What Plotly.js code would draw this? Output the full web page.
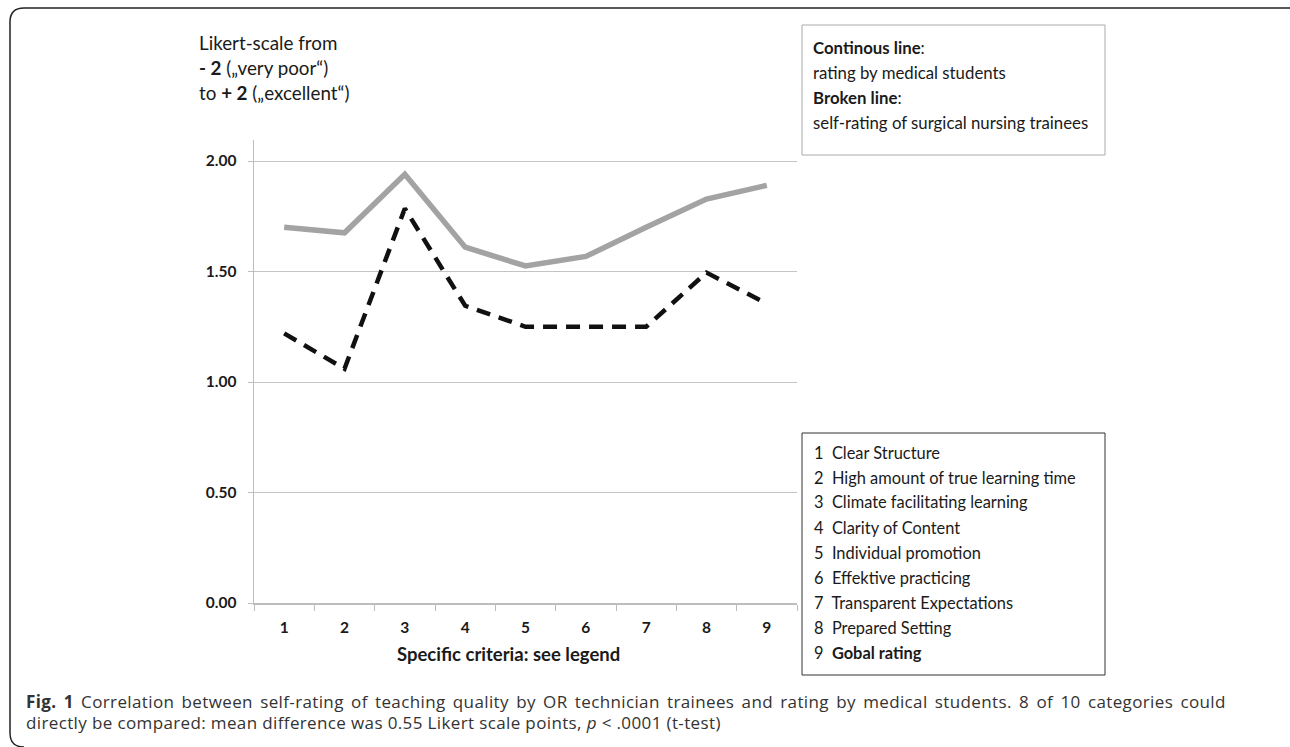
<!DOCTYPE html>
<html>
<head>
<meta charset="utf-8">
<script src="https://cdn.plot.ly/plotly-3.0.1.min.js"></script>
<style>
  html, body { margin: 0; padding: 0; background: #fff; }
  #chart { width: 1290px; height: 747px; }
</style>
</head>
<body>
<div id="chart"></div>
<script>
// ---- data ----
var categories = ['1', '2', '3', '4', '5', '6', '7', '8', '9'];
var medicalStudents = [1.70, 1.675, 1.94, 1.61, 1.525, 1.568, 1.70, 1.828, 1.89];
var nursingTrainees = [1.22, 1.06, 1.785, 1.345, 1.25, 1.25, 1.25, 1.495, 1.355];
var yTickVals = [0, 0.5, 1.0, 1.5, 2.0];
var yTickText = ['0.00', '0.50', '1.00', '1.50', '2.00'];
var criteria = [
  '1  Clear Structure',
  '2  High amount of true learning time',
  '3  Climate facilitating learning',
  '4  Clarity of Content',
  '5  Individual promotion',
  '6  Effektive practicing',
  '7  Transparent Expectations',
  '8  Prepared Setting',
  '9  <b>Gobal rating</b>'
];

// ---- layout helpers (pixel -> paper) ----
var W = 1290, H = 747;
var L = 254, R = 797, T = 140, B = 603;
function px(x) { return (x - L) / (R - L); }
function py(y) { return (B - y) / (B - T); }

var chartFont = 'Lato, "Open Sans", sans-serif';
var textColor = '#1a1a1a';

var traces = [
  {
    x: categories, y: medicalStudents, type: 'scatter', mode: 'lines',
    name: 'rating by medical students',
    line: { color: '#a3a3a3', width: 5.5 }
  },
  {
    x: categories, y: nursingTrainees, type: 'scatter', mode: 'lines',
    name: 'self-rating of surgical nursing trainees',
    line: { color: '#111111', width: 4.5, dash: '14px,9px' }
  }
];

var annotations = [];
function addText(text, x, y, size, extra) {
  var a = {
    text: text, xref: 'paper', yref: 'paper', x: px(x), y: py(y),
    xanchor: 'left', yanchor: 'middle', showarrow: false,
    font: { family: chartFont, size: size, color: textColor }
  };
  if (extra) for (var k in extra) a[k] = extra[k];
  annotations.push(a);
}

// top-left scale note
addText('Likert-scale from', 197, 42, 18.8);
addText('<b>- 2</b> (\u201every poor\u201c)', 197, 67, 18.8);
addText('to <b>+ 2</b> (\u201eexcellent\u201c)', 197, 92, 18.8);

// line-style legend box
addText('<b>Continous line</b>:', 811, 47, 16.8);
addText('rating by medical students', 811, 72, 16.8);
addText('<b>Broken line</b>:', 811, 97, 16.8);
addText('self-rating of surgical nursing trainees', 811, 122, 16.8);

// criteria legend
for (var i = 0; i < criteria.length; i++) {
  addText(criteria[i], 812, 452 + i * 25, 16.4);
}

// x-axis title
addText('<b>Specific criteria: see legend</b>', 508, 654, 18.5, { xanchor: 'center' });

// caption
var capFont = '"Open Sans", "Noto Sans", sans-serif';
var capStart = annotations.length;
annotations.push({
  text: '<b>Fig. 1</b> Correlation between self-rating of teaching quality by OR technician trainees and rating by medical students. 8 of 10 categories could',
  xref: 'paper', yref: 'paper', x: px(24), y: py(701), xanchor: 'left', yanchor: 'middle', align: 'left',
  showarrow: false, font: { family: capFont, size: 17, color: '#333333' }
});
annotations.push({
  text: 'directly be compared: mean difference was 0.55 Likert scale points, <i>p</i> < .0001 (t-test)',
  xref: 'paper', yref: 'paper', x: px(24), y: py(722), xanchor: 'left', yanchor: 'middle', align: 'left',
  showarrow: false, font: { family: capFont, size: 17, color: '#333333' }
});
var st = document.createElement('style');
st.textContent =
  'g.annotation[data-index="' + capStart + '"] text, g.annotation[data-index="' +
  (capStart + 1) + '"] text { letter-spacing: 0.37px; }' +
  'g.annotation[data-index="' + capStart + '"] text { word-spacing: 2.5px; }';
document.head.appendChild(st);

// outer rounded border path
function P(x, y) { return px(x).toFixed(5) + ',' + py(y).toFixed(5); }
var borderPath = 'M' + P(1300, 8) + ' L' + P(24, 8) + ' Q' + P(10, 8) + ' ' + P(10, 22) +
  ' L' + P(10, 733) + ' Q' + P(10, 747) + ' ' + P(24, 747);

var shapes = [
  { type: 'path', xref: 'paper', yref: 'paper', path: borderPath,
    line: { color: '#222222', width: 1.5 } },
  { type: 'rect', xref: 'paper', yref: 'paper',
    x0: px(802), x1: px(1105), y0: py(25), y1: py(155),
    line: { color: '#aaaaaa', width: 1 }, fillcolor: 'rgba(0,0,0,0)' },
  { type: 'rect', xref: 'paper', yref: 'paper',
    x0: px(802), x1: px(1105), y0: py(433), y1: py(675),
    line: { color: '#333333', width: 1 }, fillcolor: 'rgba(0,0,0,0)' }
];

var layout = {
  width: W, height: H,
  margin: { l: L, r: W - R, t: T, b: H - B, pad: 0 },
  paper_bgcolor: '#ffffff', plot_bgcolor: '#ffffff',
  showlegend: false,
  font: { family: chartFont, color: textColor },
  xaxis: {
    type: 'category', categoryorder: 'array', categoryarray: categories,
    range: [-0.5, 8.5], tickson: 'boundaries',
    showline: true, linecolor: '#bdbdbd', linewidth: 1.5,
    showgrid: false, zeroline: false,
    ticks: 'outside', ticklen: 6, tickcolor: '#bdbdbd', tickwidth: 1,
    ticklabelstandoff: 10,
    tickfont: { family: chartFont, size: 15.5, color: textColor, weight: 'bold' }
  },
  yaxis: {
    range: [0, 2.095], tickmode: 'array', tickvals: yTickVals, ticktext: yTickText,
    showline: true, linecolor: '#bdbdbd', linewidth: 1.5,
    showgrid: true, gridcolor: '#c4c4c4', gridwidth: 1, zeroline: false,
    ticks: 'outside', ticklen: 5, tickcolor: '#bdbdbd', tickwidth: 1,
    ticklabelstandoff: 8,
    tickfont: { family: chartFont, size: 15.5, color: textColor, weight: 'bold' }
  },
  annotations: annotations,
  shapes: shapes
};

Plotly.newPlot('chart', traces, layout, { staticPlot: true, displayModeBar: false });
</script>
</body>
</html>
